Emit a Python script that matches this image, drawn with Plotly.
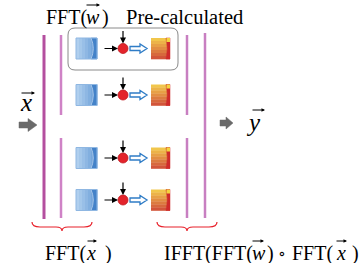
import plotly.graph_objects as go

# ---- diagram content (pixel layout of a 359x263 canvas) ----
row_centers = [48.5, 95, 158, 200]          # y of the four processing rows
top_label_left = ["FFT(", "<i>w</i>", ")"]
top_label_right = "Pre-calculated"
bottom_left_parts = ["FFT(", "<i>x</i>", ")"]
bottom_right_parts = ["IFFT(FFT(", "<i>w</i>", ")", "\u2218", "FFT(", "<i>x</i>", ")"]
input_label = "<i>x</i>"
output_label = "<i>y</i>"

FONT = "Liberation Serif, Times New Roman, DejaVu Serif, serif"
W, H = 359, 263

fig = go.Figure()
shapes = []
annotations = []


def hexmix(c1, c2, t):
    a = [int(c1[i:i + 2], 16) for i in (1, 3, 5)]
    b = [int(c2[i:i + 2], 16) for i in (1, 3, 5)]
    return "#%02x%02x%02x" % tuple(round(a[k] + (b[k] - a[k]) * t) for k in range(3))


def rect(x0, y0, x1, y1, fill, line=None, lw=0):
    shapes.append(dict(type="rect", x0=x0, y0=y0, x1=x1, y1=y1, fillcolor=fill,
                       line=dict(color=line or fill, width=lw), layer="above"))


def path(d, fill=None, line="black", lw=1):
    s = dict(type="path", path=d, line=dict(color=line, width=lw), layer="above")
    if fill:
        s["fillcolor"] = fill
    shapes.append(s)


def vline(x, y0, y1, color, w):
    shapes.append(dict(type="line", x0=x, x1=x, y0=y0, y1=y1,
                       line=dict(color=color, width=w), layer="above"))


def arrow(x0, y0, x1, y1, color="black", w=1.2, size=1.0, head=2):
    annotations.append(dict(x=x1, y=y1, ax=x0, ay=y0, xref="x", yref="y",
                            axref="x", ayref="y", text="", showarrow=True,
                            arrowhead=head, arrowsize=size, arrowwidth=w,
                            arrowcolor=color))


def text(x, y, s, size=20, anchor="left"):
    annotations.append(dict(x=x, y=y, xref="x", yref="y", text=s, showarrow=False,
                            xanchor=anchor, yanchor="middle",
                            font=dict(family=FONT, size=size, color="black")))


# vertical bus lines
vline(44, 35, 219, "#b44f9f", 3)
vline(61, 35, 115, "#cf82c6", 2.5)
vline(61, 138, 218, "#cf82c6", 2.5)
vline(187, 35, 115, "#c87fc1", 2.5)
vline(187, 138, 218, "#c87fc1", 2.5)
vline(205, 33, 218, "#c87fc1", 2.5)

# rounded "pre-calculated" box
bx0, by0, bx1, by1, r = 68, 28, 178, 70, 7
path(f"M{bx0+r},{by0} L{bx1-r},{by0} Q{bx1},{by0} {bx1},{by0+r} L{bx1},{by1-r} "
     f"Q{bx1},{by1} {bx1-r},{by1} L{bx0+r},{by1} Q{bx0},{by1} {bx0},{by1-r} "
     f"L{bx0},{by0+r} Q{bx0},{by0} {bx0+r},{by0} Z", line="#8a8a8a", lw=1)

for yc in row_centers:
    # blue square (horizontal gradient + darker D-shaped right band)
    x0, x1, hh = 76, 97, 10.5
    n = 7
    for k in range(n):
        xa = x0 + (x1 - x0) * k / n
        xb = x0 + (x1 - x0) * (k + 1) / n
        rect(xa, yc - hh, xb + 0.3, yc + hh, hexmix("#b0cfee", "#6b9fd8", k / (n - 1)))
    path(f"M91,{yc-hh} Q95.5,{yc} 91,{yc+hh} L{x1},{yc+hh} L{x1},{yc-hh} Z",
         fill="#4482c8", line="#4482c8", lw=0.5)
    path(f"M91,{yc-hh} Q95.5,{yc} 91,{yc+hh}", line="#a9c8ea", lw=1)
    rect(x0, yc - hh, x1, yc + hh, "rgba(0,0,0,0)", line="#8fb7e2", lw=1)

    # orange square (vertical gradient + red right band)
    ox0, ox1 = 151, 170
    m = 7
    for k in range(m):
        ya = yc - hh + 2 * hh * k / m
        yb = yc - hh + 2 * hh * (k + 1) / m
        rect(ox0, ya, ox1, yb + 0.3, hexmix("#f1c64c", "#d2553a", k / (m - 1)))
    path(f"M166,{yc-hh} Q168.5,{yc} 166,{yc+hh} L{ox1},{yc+hh} L{ox1},{yc-hh} Z",
         fill="#cf2a2a", line="#cf2a2a", lw=0.5)
    rect(166.5, yc - hh, ox1, yc - hh + 4, "#f3d43e")

    # black arrows into the multiply node
    arrow(103, yc, 118, yc, w=1.2, size=1.0)
    arrow(123, yc - 19, 123, yc - 5, w=1.2, size=1.0)
    # red node
    shapes.append(dict(type="circle", x0=118, x1=128, y0=yc - 5, y1=yc + 5,
                       fillcolor="#e3242b", line=dict(color="#c01820", width=0.8),
                       layer="above"))
    # hollow blue arrow
    path(f"M130,{yc-2} L140,{yc-2} L140,{yc-4.5} L147,{yc} L140,{yc+4.5} "
         f"L140,{yc+2} L130,{yc+2} Z", fill="white", line="#2f7cc6", lw=1.3)

# thick grey input / output arrows
path("M19,122 L28,122 L28,118.5 L37,125 L28,131.5 L28,128 L19,128 Z",
     fill="#6a6a6a", line="#6a6a6a", lw=0.5)
path("M220,120 L226,120 L226,117 L233,123 L226,129 L226,126 L220,126 Z",
     fill="#6a6a6a", line="#6a6a6a", lw=0.5)


# red curly braces
def brace(xa, xb, y):
    xm = (xa + xb) / 2
    return (f"M{xa},{y-5} Q{xa},{y} {xa+8},{y} L{xm-6},{y} Q{xm},{y} {xm},{y+4} "
            f"Q{xm},{y} {xm+6},{y} L{xb-8},{y} Q{xb},{y} {xb},{y-5}")


path(brace(32, 92, 227), line="#e8202a", lw=1.2)
path(brace(157, 217, 227), line="#e8202a", lw=1.2)

# ---- texts ----
TY, BY = 17, 253
# top: FFT(w)   Pre-calculated
text(44, TY, top_label_left[0])
text(92.5, TY, top_label_left[1], anchor="center")
text(100, TY, top_label_left[2])
text(124, TY, top_label_right, size=20.5)
# bottom left: FFT(x)
text(43, BY, bottom_left_parts[0])
text(91, BY, bottom_left_parts[1], anchor="center")
text(103, BY, bottom_left_parts[2])
# bottom right: IFFT(FFT(w)∘FFT(x)
text(162, BY, bottom_right_parts[0])
text(258.5, BY, bottom_right_parts[1], anchor="center")
text(264.5, BY, bottom_right_parts[2])
text(282, BY, bottom_right_parts[3], size=16, anchor="center")
text(290, BY, bottom_right_parts[4])
text(341, BY, bottom_right_parts[5], anchor="center")
text(350, BY, bottom_right_parts[6])
# input / output symbols
text(26, 102, input_label, 25, anchor="center")
text(253, 122, output_label, 25, anchor="center")

# vector arrows over symbols
arrow(85, 5, 100, 5, w=1, size=0.7)       # w in FFT(w)
arrow(20, 93, 35, 93, w=1, size=0.7)      # input x
arrow(251, 110, 265, 110, w=1, size=0.7)  # output y
arrow(86, 241, 97, 241, w=1, size=0.7)    # x in FFT(x)
arrow(251, 241, 264, 241, w=1, size=0.7)  # w in IFFT
arrow(335, 241, 347, 241, w=1, size=0.7)  # x in IFFT

fig.update_layout(
    width=W, height=H, margin=dict(l=0, r=0, t=0, b=0),
    paper_bgcolor="white", plot_bgcolor="white",
    xaxis=dict(range=[0, W], visible=False, fixedrange=True),
    yaxis=dict(range=[H, 0], visible=False, fixedrange=True),
    shapes=shapes, annotations=annotations, showlegend=False,
)
# remove the default page margin so the 359x263 figure fills the window exactly
fig.write_html("out.html",
               config={"displayModeBar": False, "staticPlot": True},
               post_script="document.body.style.margin='0px';"
                           "document.body.style.overflow='hidden';")
